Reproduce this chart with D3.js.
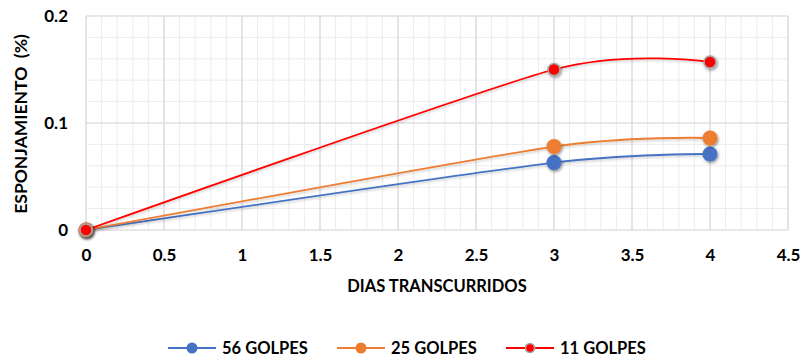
<!DOCTYPE html>
<html><head><meta charset="utf-8">
<script src="https://cdn.jsdelivr.net/npm/d3@7"></script>
<style>body{margin:0;background:#fff}svg{display:block;font-family:Lato,"Open Sans",sans-serif;font-weight:bold}</style>
</head><body>
<svg id="c" width="809" height="361"></svg>
<script>
const days = [0, 3, 4];
const golpes56 = [0, 0.063, 0.071];
const golpes25 = [0, 0.078, 0.086];
const golpes11 = [0, 0.150, 0.157];
const seriesNames = ["56 GOLPES", "25 GOLPES", "11 GOLPES"];
const xTicks = [0, 0.5, 1, 1.5, 2, 2.5, 3, 3.5, 4, 4.5];
const yTicks = [0, 0.1, 0.2];

const colors = ["#4472C4", "#ED7D31", "#FF0000"];
const svg = d3.select("#c");
const x = d3.scaleLinear().domain([0, 4.5]).range([86, 788]);
const y = d3.scaleLinear().domain([0, 0.2]).range([230, 16]);

const defs = svg.append("defs");
const f = defs.append("filter").attr("id","sh").attr("x","-100%").attr("y","-100%").attr("width","300%").attr("height","300%");
f.append("feDropShadow").attr("dx",1).attr("dy",1.5).attr("stdDeviation",1.8).attr("flood-color","#000").attr("flood-opacity",0.45);
const f2 = defs.append("filter").attr("id","lsh").attr("x","-10%").attr("y","-50%").attr("width","120%").attr("height","200%");
f2.append("feDropShadow").attr("dx",0.5).attr("dy",1.5).attr("stdDeviation",1.2).attr("flood-color","#000").attr("flood-opacity",0.2);

const g = svg.append("g");
// minor grid
g.selectAll(".mx").data(d3.range(0, 4.5001, 0.1)).enter().append("line")
  .attr("x1", d => x(d)).attr("x2", d => x(d)).attr("y1", y(0)).attr("y2", y(0.2))
  .attr("stroke", "#ececec").attr("stroke-width", 1);
g.selectAll(".my").data(d3.range(0, 0.2001, 0.02)).enter().append("line")
  .attr("y1", d => y(d)).attr("y2", d => y(d)).attr("x1", x(0)).attr("x2", x(4.5))
  .attr("stroke", "#ececec").attr("stroke-width", 1);
// major grid
g.selectAll(".Mx").data(xTicks).enter().append("line")
  .attr("x1", d => x(d)).attr("x2", d => x(d)).attr("y1", y(0)).attr("y2", y(0.2))
  .attr("stroke", "#d9d9d9").attr("stroke-width", 1.2);
g.selectAll(".My").data(yTicks).enter().append("line")
  .attr("y1", d => y(d)).attr("y2", d => y(d)).attr("x1", x(0)).attr("x2", x(4.5))
  .attr("stroke", "#d9d9d9").attr("stroke-width", 1.2);

// axes labels
const xAxis = d3.axisBottom(x).tickValues(xTicks).tickSize(0).tickPadding(19).tickFormat(d3.format("~g"));
const xa = svg.append("g").attr("transform", `translate(0,${y(0)})`).call(xAxis);
xa.select(".domain").remove();
xa.selectAll("text").attr("font-size", 17).attr("font-weight","bold").attr("fill","#000").attr("font-family","Lato");
const yAxis = d3.axisLeft(y).tickValues(yTicks).tickSize(0).tickPadding(18).tickFormat(d3.format("~g"));
const ya = svg.append("g").attr("transform", `translate(${x(0)},0)`).call(yAxis);
ya.select(".domain").remove();
ya.selectAll("text").attr("font-size", 17).attr("font-weight","bold").attr("fill","#000").attr("font-family","Lato");

svg.append("text").attr("x", 437).attr("y", 292).attr("text-anchor","middle").attr("font-size",16.5).text("DIAS TRANSCURRIDOS");
svg.append("text").attr("transform","translate(27,124) rotate(-90)").attr("text-anchor","middle").attr("font-size",17.5).text("ESPONJAMIENTO\u00a0 (%)");

const allSeries = [golpes56, golpes25, golpes11];
const line = d3.line().x(d => x(d[0])).y(d => y(d[1])).curve(d3.curveCardinal.tension(0.3));
allSeries.forEach((vals, i) => {
  const pts = days.map((d, j) => [d, vals[j]]);
  svg.append("path").attr("d", line(pts)).attr("fill","none").attr("stroke", colors[i]).attr("stroke-width", 1.8).attr("filter","url(#lsh)");
});
allSeries.forEach((vals, i) => {
  const pts = days.map((d, j) => [d, vals[j]]);
  svg.selectAll(null).data(pts).enter().append("circle")
    .attr("cx", d => x(d[0])).attr("cy", d => y(d[1]))
    .attr("r", i === 2 ? 6 : 7.5)
    .attr("fill", colors[i])
    .attr("stroke", i === 2 ? "#a6a6a6" : colors[i]).attr("stroke-width", i === 2 ? 1.5 : 0)
    .attr("filter","url(#sh)");
});

// legend
const legX = [168, 337, 506];
seriesNames.forEach((n, i) => {
  const lg = svg.append("g").attr("transform", `translate(${legX[i]},348)`);
  lg.append("line").attr("x1",0).attr("x2",48).attr("stroke",colors[i]).attr("stroke-width",1.8);
  lg.append("circle").attr("cx",24).attr("r", i===2?4.5:5.5).attr("fill",colors[i])
    .attr("stroke", i===2?"#a6a6a6":colors[i]).attr("stroke-width", i===2?1.5:0);
  lg.append("text").attr("x",54).attr("y",6).attr("font-size",16.5).text(n);
});
</script>
</body></html>
